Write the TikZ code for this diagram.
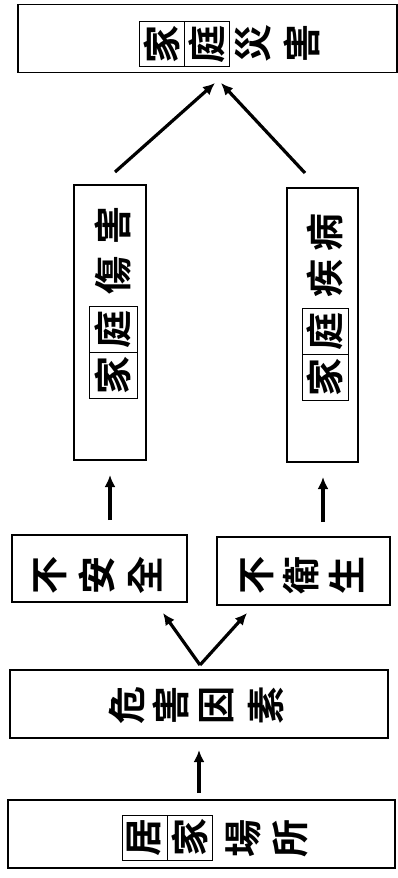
\documentclass[tikz,border=0pt]{standalone}
\usepackage{fontspec}
\newfontfamily\cjk{Noto Sans CJK TC}[BoldFont={Noto Sans CJK TC Bold}]
\usetikzlibrary{arrows.meta}
\begin{document}
\begin{tikzpicture}[x=1pt,y=-1pt,
  box/.style={draw,line width=1.2pt,inner sep=0pt},
  ch/.style={font=\cjk\bfseries\fontsize{38}{38}\selectfont,rotate=90,inner sep=0pt},
  fch/.style={ch,draw,line width=0.8pt,minimum width=45pt,minimum height=45pt},
  arr/.style={line width=3.2pt,-{Latex[length=12pt,width=11pt]}}]
\useasboundingbox (0,0) rectangle (398,878);
% boxes
\node[box,minimum width=379pt,minimum height=68pt] (disaster) at (207.5,38.5) {};
\node[box,minimum width=72pt,minimum height=275pt] (inj) at (110,322.5) {};
\node[box,minimum width=71pt,minimum height=274pt] (ill) at (322.5,325) {};
\node[box,minimum width=175pt,minimum height=67pt] (unsafe) at (99.5,568.5) {};
\node[box,minimum width=173pt,minimum height=68pt] (unhyg) at (303.5,571) {};
\node[box,minimum width=378pt,minimum height=68pt] (hazard) at (199,704) {};
\node[box,minimum width=387pt,minimum height=68pt] (home) at (201.5,834) {};
% top text
\node[fch] (d1) at (161.5,44) {家};
\node[fch] (d2) at (206.5,44) {庭};
\node[ch] (d3) at (253,43) {災};
\node[ch] (d4) at (302,43) {害};
% left vertical
\node[fch,minimum width=46pt,minimum height=48pt] (i1) at (113,375) {家};
\node[fch,minimum width=46pt,minimum height=48pt] (i2) at (113,329) {庭};
\node[ch] (i3) at (113,275) {傷};
\node[ch] (i4) at (113,225) {害};
% right vertical
\node[fch,minimum width=46pt,minimum height=46pt] (s1) at (325,377.5) {家};
\node[fch,minimum width=46pt,minimum height=46pt] (s2) at (325,331.5) {庭};
\node[ch] (s3) at (325,278) {疾};
\node[ch] (s4) at (325,232) {病};
% middle
\node[ch] (u1) at (50,575) {不};
\node[ch] (u2) at (97,575) {安};
\node[ch] (u3) at (145,575) {全};
\node[ch] (h1) at (257,575) {不};
\node[ch] (h2) at (301,575) {衛};
\node[ch] (h3) at (347,575) {生};
% hazard
\node[ch] (z1) at (127,705) {危};
\node[ch] (z2) at (171,705) {害};
\node[ch] (z3) at (217,705) {因};
\node[ch] (z4) at (266,705) {素};
% home
\node[fch] (m1) at (144.5,837.5) {居};
\node[fch] (m2) at (189.5,837.5) {家};
\node[ch] (m3) at (243,838) {場};
\node[ch] (m4) at (290,838) {所};
% connector ends
\coordinate (aL0) at (115,172); \coordinate (aL1) at (215,83);
\coordinate (aR0) at (305,173); \coordinate (aR1) at (221,83);
\coordinate (bL0) at (110,520); \coordinate (bL1) at (110,475);
\coordinate (bR0) at (323,522); \coordinate (bR1) at (323,477);
\coordinate (v0) at (200,665); \coordinate (vL) at (163,613); \coordinate (vR) at (247,613);
\coordinate (c0) at (199,793); \coordinate (c1) at (199,750);
\draw[arr] (aL0) -- (aL1);
\draw[arr] (aR0) -- (aR1);
\draw[arr] (bL0) -- (bL1);
\draw[arr] (bR0) -- (bR1);
\draw[arr] (v0) -- (vL);
\draw[arr] (v0) -- (vR);
\draw[arr] (c0) -- (c1);
\end{tikzpicture}
\end{document}
